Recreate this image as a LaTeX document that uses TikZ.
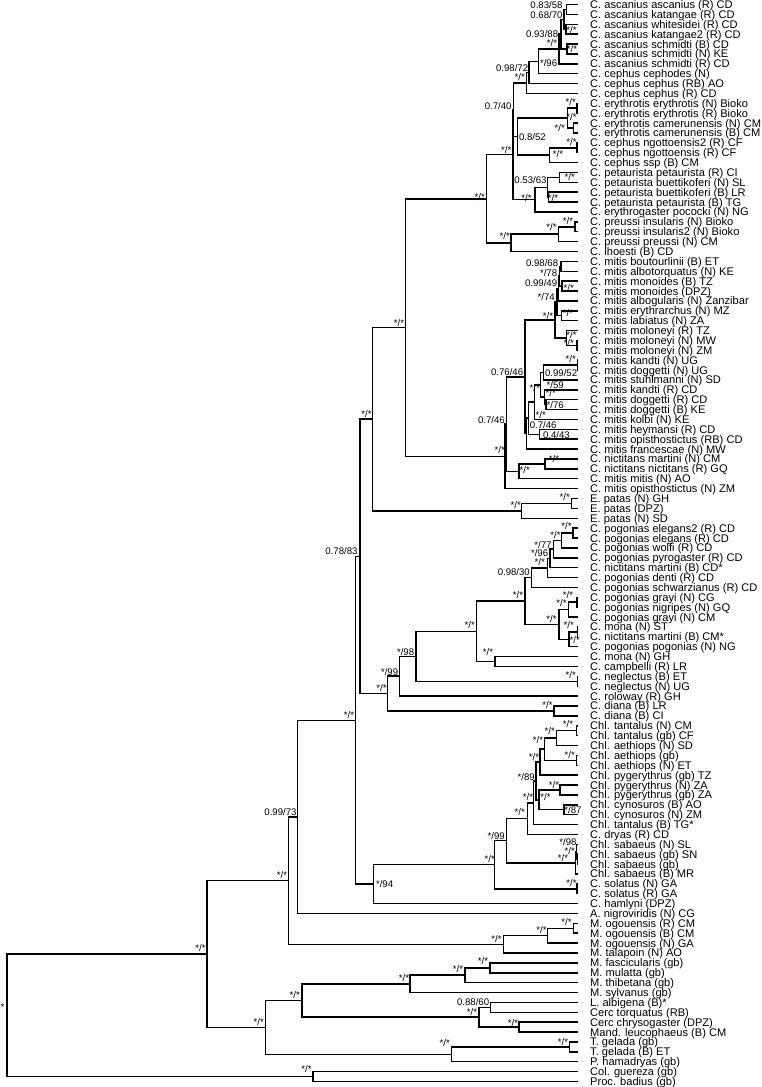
\documentclass[tikz,border=0pt]{standalone}
\usepackage{fontspec}
\setmainfont{Liberation Sans}
\usetikzlibrary{calc}
\newcommand\nd[4]{%
  \path let \p1=(#3), \p2=(#4) in coordinate (#1) at (#2pt,{0.5*(\y1+\y2)});
  \draw[br] (#1) |- (#3);
  \draw[br] (#1) |- (#4);
}
\newcommand\lb[4]{\node[lab] (#1) at (#2,#3) {#4};}
\begin{document}
\begin{tikzpicture}[x=1pt,y=-1pt,
  br/.style={line width=1.5pt, black},
  leaf/.style={anchor=base west, inner sep=0pt, font=\fontsize{11.1}{12}\selectfont},
  lab/.style={anchor=east, inner sep=0pt, font=\fontsize{9.6}{10}\selectfont}]
\useasboundingbox (0,0) rectangle (761,1087);
\foreach \nm [count=\i] in {C. ascanius ascanius (R) CD, C. ascanius katangae (R) CD, C. ascanius whitesidei (R) CD, C. ascanius katangae2 (R) CD, C. ascanius schmidti (B) CD, C. ascanius schmidti (N) KE, C. ascanius schmidti (R) CD, C. cephus cephodes (N), C. cephus cephus (RB) AO, C. cephus cephus (R) CD, C. erythrotis erythrotis (N) Bioko, C. erythrotis erythrotis (R) Bioko, C. erythrotis camerunensis (N) CM, C. erythrotis camerunensis (B) CM, C. cephus ngottoensis2 (R) CF, C. cephus ngottoensis (R) CF, C. cephus ssp (B) CM, C. petaurista petaurista (R) CI, C. petaurista buettikoferi (N) SL, C. petaurista buettikoferi (B) LR, C. petaurista petaurista (B) TG, C. erythrogaster pococki (N) NG, C. preussi insularis (N) Bioko, C. preussi insularis2 (N) Bioko, C. preussi preussi (N) CM, C. lhoesti (B) CD, C. mitis boutourlinii (B) ET, C. mitis albotorquatus (N) KE, C. mitis monoides (B) TZ, C. mitis monoides (DPZ), C. mitis albogularis (N) Zanzibar, C. mitis erythrarchus (N) MZ, C. mitis labiatus (N) ZA, C. mitis moloneyi (R) TZ, C. mitis moloneyi (N) MW, C. mitis moloneyi (N) ZM, C. mitis kandti (N) UG, C. mitis doggetti (N) UG, C. mitis stuhlmanni (N) SD, C. mitis kandti (R) CD, C. mitis doggetti (R) CD, C. mitis doggetti (B) KE, C. mitis kolbi (N) KE, C. mitis heymansi (R) CD, C. mitis opisthostictus (RB) CD, C. mitis francescae (N) MW, C. nictitans martini (N) CM, C. nictitans nictitans (R) GQ, C. mitis mitis (N) AO, C. mitis opisthostictus (N) ZM, E. patas (N) GH, E. patas (DPZ), E. patas (N) SD, C. pogonias elegans2 (R) CD, C. pogonias elegans (R) CD, C. pogonias wolfi (R) CD, C. pogonias pyrogaster (R) CD, C. nictitans martini (B) CD*, C. pogonias denti (R) CD, C. pogonias schwarzianus (R) CD, C. pogonias grayi (N) CG, C. pogonias nigripes (N) GQ, C. pogonias grayi (N) CM, C. mona (N) ST, C. nictitans martini (B) CM*, C. pogonias pogonias (N) NG, C. mona (N) GH, C. campbelli (R) LR, C. neglectus (B) ET, C. neglectus (N) UG, C. roloway (R) GH, C. diana (B) LR, C. diana (B) CI, Chl. tantalus (N) CM, Chl. tantalus (gb) CF, Chl. aethiops (N) SD, Chl. aethiops (gb), Chl. aethiops (N) ET, Chl. pygerythrus (gb) TZ, Chl. pygerythrus (N) ZA, Chl. pygerythrus (gb) ZA, Chl. cynosuros (B) AO, Chl. cynosuros (N) ZM, Chl. tantalus (B) TG*, C. dryas (R) CD, Chl. sabaeus (N) SL, Chl. sabaeus (gb) SN, Chl. sabaeus (gb), Chl. sabaeus (B) MR, C. solatus (N) GA, C. solatus (R) GA, C. hamlyni (DPZ), A. nigroviridis (N) CG, M. ogouensis (R) CM, M. ogouensis (B) CM, M. ogouensis (N) GA, M. talapoin (N) AO, M. fascicularis (gb), M. mulatta (gb), M. thibetana (gb), M. sylvanus (gb), L. albigena (B)*, Cerc torquatus (RB), Cerc chrysogaster (DPZ), Mand. leucophaeus (B) CM, T. gelada (gb), T. gelada (B) ET, P. hamadryas (gb), Col. guereza (gb), Proc. badius (gb)}{
  \coordinate (t\i) at (578,{4.5+9.88*(\i-1)});
  \node[leaf] (lf\i) at (590,{8.5+9.88*(\i-1)}) {\nm};
}
% cephus group
\nd{n12}{566.5}{t1}{t2}
\nd{n34}{566}{t3}{t4}
\nd{n1234}{564}{n12}{n34}
\nd{n56}{567}{t5}{t6}
\nd{nP}{561}{n1234}{n56}
\nd{nR}{559}{nP}{t7}
\nd{nQ}{538.3}{nR}{t8}
\nd{nS}{529}{nQ}{t9}
\nd{nT}{526.5}{nS}{t10}
\nd{e12}{577}{t11}{t12}
\nd{e34}{573.3}{t13}{t14}
\nd{ery}{567.3}{e12}{e34}
\nd{g12}{577}{t15}{t16}
\nd{ngo}{549.3}{g12}{t17}
\nd{nV}{517.3}{ery}{ngo}
\nd{nE}{513.6}{nT}{nV}
\nd{p1819}{559.3}{t18}{t19}
\nd{p2021}{548.7}{t20}{t21}
\nd{p53}{547.3}{p1819}{p2021}
\nd{pet}{535}{p53}{t22}
\nd{nF}{512.8}{nE}{pet}
\nd{r2324}{575}{t23}{t24}
\nd{r25}{558.3}{r2324}{t25}
\nd{pre}{511}{r25}{t26}
\nd{cpp}{486.7}{nF}{pre}
% mitis group
\nd{m12}{561}{t27}{t28}
\nd{m34}{562}{t29}{t30}
\nd{m1234}{559.5}{m12}{m34}
\nd{m5}{558.5}{m1234}{t31}
\nd{m67}{561.7}{t32}{t33}
\nd{mite}{557}{m5}{m67}
\nd{mo1}{577}{t35}{t36}
\nd{mo2}{566.7}{t34}{mo1}
\nd{mit1}{555}{mite}{mo2}
\nd{k1}{577.3}{t37}{t38}
\nd{k2}{543.3}{k1}{t39}
\nd{k3}{546}{t41}{t42}
\nd{k4}{544.5}{t40}{k3}
\nd{k5}{540.5}{k2}{k4}
\nd{k6}{534.3}{k5}{t43}
\nd{hh}{539.3}{t44}{t45}
\nd{b1}{528.5}{k6}{hh}
\nd{b2}{526.7}{b1}{t46}
\nd{n076}{525}{mit1}{b2}
\nd{nic}{545}{t47}{t48}
\nd{nm}{519}{nic}{t49}
\nd{n07a}{506.7}{n076}{nm}
\nd{mit}{505}{n07a}{t50}
\nd{nW}{405.7}{cpp}{mit}
% patas
\nd{pat1}{571.5}{t51}{t52}
\nd{pat}{521.7}{pat1}{t53}
\nd{nZ}{372.7}{nW}{pat}
% pogonias group
\nd{q1}{573}{t54}{t55}
\nd{q2}{561.7}{q1}{t56}
\nd{q3}{553.5}{q2}{t57}
\nd{q4}{550}{q3}{t58}
\nd{q5}{547.3}{q4}{t59}
\nd{q6}{531.5}{q5}{t60}
\nd{g61}{577}{t61}{t62}
\nd{pg1}{568.3}{g61}{t63}
\nd{g64}{577.3}{t64}{t65}
\nd{pg2}{569}{g64}{t66}
\nd{pgn}{559}{pg1}{pg2}
\nd{pu}{525}{q6}{pgn}
\nd{pmc}{495}{t67}{t68}
\nd{pb}{476.5}{pu}{pmc}
\nd{neg}{577.3}{t69}{t70}
\nd{p98}{416}{pb}{neg}
\nd{p99}{399.3}{p98}{t71}
\nd{dia}{554}{t72}{t73}
\nd{py}{387.7}{p99}{dia}
\nd{nY}{360}{nZ}{py}
% chlorocebus
\nd{tan1}{576.7}{t74}{t75}
\nd{ta}{556.7}{tan1}{t76}
\nd{ae2}{576.7}{t77}{t78}
\nd{taa}{544.3}{ta}{ae2}
\nd{taap}{540}{taa}{t79}
\nd{pyg}{560}{t80}{t81}
\nd{cyn}{564}{t82}{t83}
\nd{pcn}{539}{pyg}{cyn}
\nd{tp2}{536}{taap}{pcn}
\nd{chn}{533.7}{tp2}{t84}
\nd{chd}{527.3}{chn}{t85}
\nd{s1}{577.3}{t87}{t88}
\nd{s2}{576.3}{t86}{s1}
\nd{s3}{575.3}{s2}{t89}
\nd{aet}{506.7}{chd}{s3}
\nd{sol}{577}{t90}{t91}
\nd{chl}{494.3}{aet}{sol}
\nd{h94}{373.3}{chl}{t92}
\nd{nX}{355.7}{nY}{h94}
\nd{n099}{297.7}{nX}{t93}
\nd{mo12}{573.3}{t94}{t95}
\nd{mog}{547.3}{mo12}{t96}
\nd{miop}{503.3}{mog}{t97}
\nd{gue}{288.3}{n099}{miop}
% papionini
\nd{fm}{490}{t98}{t99}
\nd{mac3}{465}{fm}{t100}
\nd{mac}{410}{mac3}{t101}
\nd{lc}{490.7}{t102}{t103}
\nd{cmd}{519}{t104}{t105}
\nd{lccm}{479}{lc}{cmd}
\nd{pa1}{302}{mac}{lccm}
\nd{tg}{569.3}{t106}{t107}
\nd{tpn}{451.7}{tg}{t108}
\nd{pap}{265.7}{pa1}{tpn}
\nd{ccn}{207}{gue}{pap}
\nd{coln}{313}{t109}{t110}
\nd{root}{7}{ccn}{coln}
% support labels
\lb{lb1}{562.7}{4.7}{0.83/58}
\lb{lb2}{562.7}{14.7}{0.68/70}
\lb{lb3}{576.7}{30}{*/*}
\lb{lb4}{558.3}{33.7}{0.93/88}
\lb{lb5}{557.3}{43.3}{*/*}
\lb{lb6}{577.3}{49.3}{*/*}
\lb{lb7}{557.3}{63.3}{*/96}
\lb{lb8}{528.3}{68.3}{0.98/72}
\lb{lb9}{525}{77.3}{*/*}
\lb{lb10}{511.7}{106}{0.7/40}
\lb{lb11}{576}{101.7}{*/*}
\lb{lb12}{576.7}{117.3}{*/*}
\lb{lb13}{565}{127.7}{*/*}
\lb{lb14}{546}{136.7}{0.8/52}
\lb{lb15}{576.7}{141.7}{*/*}
\lb{lb16}{485}{196.7}{*/*}
\lb{lb17}{511.5}{150}{*/*}
\lb{lb18}{563.3}{154.3}{*/*}
\lb{lb19}{546.7}{180}{0.53/63}
\lb{lb20}{575}{176.7}{*/*}
\lb{lb21}{558.3}{198.3}{*/*}
\lb{lb22}{531.7}{198.3}{*/*}
\lb{lb23}{573.3}{221}{*/*}
\lb{lb24}{556.7}{226.7}{*/*}
\lb{lb25}{510}{235.7}{*/*}
\lb{lb26}{558.3}{263.3}{0.98/68}
\lb{lb27}{557.3}{273.3}{*/78}
\lb{lb28}{557.3}{283.3}{0.99/49}
\lb{lb29}{574}{287.7}{*/*}
\lb{lb30}{555}{297.3}{*/74}
\lb{lb31}{573.3}{313.3}{*/*}
\lb{lb32}{553.3}{316}{*/*}
\lb{lb33}{576.7}{335}{*/*}
\lb{lb34}{574}{342.7}{*/*}
\lb{lb35}{523.3}{371.7}{0.76/46}
\lb{lb36}{576}{359.3}{*/*}
\lb{lb37}{577.3}{372.7}{0.99/52}
\lb{lb38}{564}{385}{*/59}
\lb{lb39}{540}{388.3}{*/*}
\lb{lb40}{556}{393.3}{*/*}
\lb{lb41}{564}{405}{*/76}
\lb{lb42}{546}{415}{*/*}
\lb{lb43}{505}{420}{0.7/46}
\lb{lb44}{556.7}{425}{0.7/46}
\lb{lb45}{570}{435}{0.4/43}
\lb{lb46}{505}{450}{*/*}
\lb{lb47}{559.3}{459}{*/*}
\lb{lb48}{530}{470}{*/*}
\lb{lb49}{570}{496.7}{*/*}
\lb{lb50}{521}{505}{*/*}
\lb{lb51}{571.7}{525.7}{*/*}
\lb{lb52}{560.7}{535}{*/*}
\lb{lb53}{551.7}{545}{*/77}
\lb{lb54}{548.3}{553.3}{*/96}
\lb{lb55}{545}{561.7}{*/*}
\lb{lb56}{530}{572.3}{0.98/30}
\lb{lb57}{523.3}{595}{*/*}
\lb{lb58}{573.3}{595}{*/*}
\lb{lb59}{566.7}{603.3}{*/*}
\lb{lb60}{556.7}{619.3}{*/*}
\lb{lb61}{574}{625}{*/*}
\lb{lb62}{580}{640}{*/*}
\lb{lb63}{475}{625}{*/*}
\lb{lb64}{493.3}{651.7}{*/*}
\lb{lb65}{576}{675}{*/*}
\lb{lb66}{552.7}{705}{*/*}
\lb{lb67}{573.3}{724}{*/*}
\lb{lb68}{555}{731}{*/*}
\lb{lb69}{575}{755}{*/*}
\lb{lb70}{543.3}{740}{*/*}
\lb{lb71}{539.3}{756.7}{*/*}
\lb{lb72}{535}{776.7}{*/89}
\lb{lb73}{559.3}{785}{*/*}
\lb{lb74}{550.7}{796.7}{*/*}
\lb{lb75}{533.3}{796.7}{*/*}
\lb{lb76}{581.7}{810}{*/87}
\lb{lb77}{525}{812.3}{*/*}
\lb{lb78}{505}{836}{*/99}
\lb{lb79}{576.7}{842.3}{*/98}
\lb{lb80}{575}{851}{*/*}
\lb{lb81}{568.3}{858.3}{*/*}
\lb{lb82}{495}{859}{*/*}
\lb{lb83}{576.7}{883.3}{*/*}
\lb{lb84}{571.7}{921.7}{*/*}
\lb{lb85}{546.7}{930}{*/*}
\lb{lb86}{501.7}{939.3}{*/*}
\lb{lb87}{488.3}{960.7}{*/*}
\lb{lb88}{463.3}{969.3}{*/*}
\lb{lb89}{489.3}{1001.7}{0.88/60}
\lb{lb90}{477.3}{1012.5}{*/*}
\lb{lb91}{518.3}{1023.3}{*/*}
\lb{lb92}{568.3}{1041.7}{*/*}
\lb{lb93}{450}{1043.3}{*/*}
\lb{lb94}{287.3}{875}{*/*}
\lb{lb95}{393.3}{884}{*/94}
\lb{lb96}{205.7}{948.3}{*/*}
\lb{lb97}{4.5}{1007}{*}
\lb{lb98}{409.3}{978.3}{*/*}
\lb{lb99}{300}{995}{*/*}
\lb{lb100}{264}{1021.7}{*/*}
\lb{lb101}{311.7}{1069.3}{*/*}
\lb{lb102}{404.3}{323.3}{*/*}
\lb{lb103}{371.7}{414.3}{*/*}
\lb{lb104}{357.7}{551}{0.78/83}
\lb{lb105}{414.3}{651.7}{*/98}
\lb{lb106}{398.3}{671.7}{*/99}
\lb{lb107}{386.7}{688.3}{*/*}
\lb{lb108}{354.3}{715}{*/*}
\lb{lb109}{296.7}{812.3}{0.99/73}
\end{tikzpicture}
\end{document}
